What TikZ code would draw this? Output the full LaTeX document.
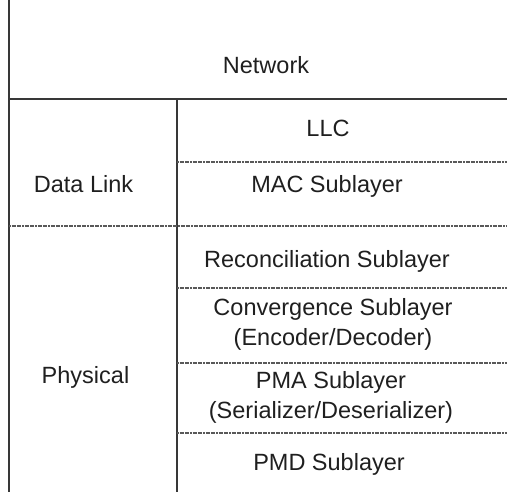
\documentclass[tikz,border=0pt]{standalone}
\usepackage{fontspec}
\setmainfont{Liberation Sans}
\begin{document}
\begin{tikzpicture}[x=1pt,y=-1pt,
  frame/.style={draw=black!78,line width=1.6pt},
  split/.style={draw=black!65,line width=1.1pt,dash pattern=on 2pt off 0.6pt},
  lbl/.style={font=\fontsize{23.5}{30}\selectfont,text=black!88,align=center,
    inner sep=0pt,anchor=base}]
\useasboundingbox (0,0) rectangle (507,492);
% frame lines
\coordinate (lt) at (9,0);
\coordinate (lb) at (9,492);
\coordinate (nl) at (9,99);
\coordinate (nr) at (507,99);
\coordinate (mt) at (177,99);
\coordinate (mb) at (177,492);
\draw[frame] (lt) -- (lb);
\draw[frame] (nl) -- (nr);
\draw[frame] (mt) -- (mb);
% sublayer boundaries
\coordinate (a1) at (177,162); \coordinate (a2) at (507,162);
\coordinate (b1) at (9,226);   \coordinate (b2) at (507,226);
\coordinate (c1) at (177,288); \coordinate (c2) at (507,288);
\coordinate (d1) at (177,363); \coordinate (d2) at (507,363);
\coordinate (e1) at (177,433); \coordinate (e2) at (507,433);
\draw[split] (a1) -- (a2);
\draw[split] (b1) -- (b2);
\draw[split] (c1) -- (c2);
\draw[split] (d1) -- (d2);
\draw[split] (e1) -- (e2);
% labels, placed by the baseline of their last line
\node[lbl] (net) at (266,74) {Network};
\node[lbl] (dl) at (83.5,193) {Data Link};
\node[lbl] (phy) at (85.5,384) {Physical};
\node[lbl] (llc) at (328,137) {LLC};
\node[lbl] (mac) at (327,193) {MAC Sublayer};
\node[lbl] (rs) at (327,268) {Reconciliation Sublayer};
\node[lbl] (cs) at (333,345) {Convergence Sublayer\\(Encoder/Decoder)};
\node[lbl] (pma) at (331,418) {PMA Sublayer\\(Serializer/Deserializer)};
\node[lbl] (pmd) at (329,471) {PMD Sublayer};
\end{tikzpicture}
\end{document}
